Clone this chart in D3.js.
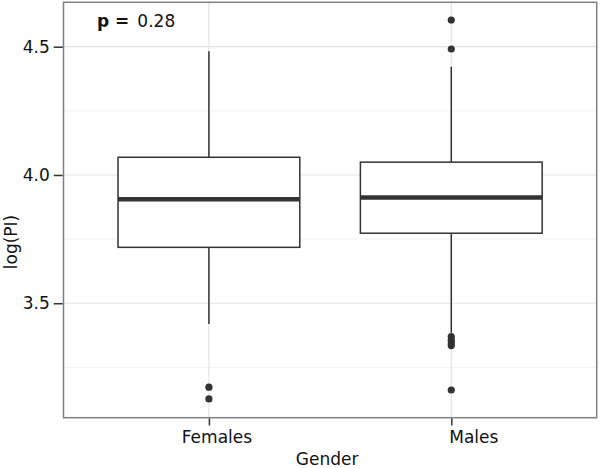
<!DOCTYPE html>
<html>
<head>
<meta charset="utf-8">
<script src="https://cdn.jsdelivr.net/npm/d3@7"></script>
<style>
body { margin: 0; background: #fff; }
svg { display: block; font-family: "DejaVu Sans", sans-serif; }
</style>
</head>
<body>
<svg id="chart" width="600" height="468"></svg>
<script>
const categories = ["Females", "Males"];
const q1 = [3.718, 3.773];
const medians = [3.905, 3.912];
const q3 = [4.069, 4.050];
const whiskerLow = [3.419, 3.385];
const whiskerHigh = [4.482, 4.422];
const outliersFemales = [3.173, 3.127];
const outliersMales = [4.604, 4.491, 3.370, 3.356, 3.345, 3.335, 3.162];
const yTicks = [3.5, 4.0, 4.5];
const yMinor = [3.25, 3.75, 4.25];
const pText = "0.28";

(function () {
const svg = d3.select("#chart");
const pL = 63.5, pR = 596.7, pT = 2.3, pB = 417.7;
const fs = "17px";
const labelShift = {"Females": 7.5, "Males": 22};

const x = d3.scalePoint().domain(categories).range([pL, pR]).padding(0.6);
const bandUnit = (pR - pL) / 2.2;
const y = d3.scaleLinear().domain([3.054, 4.673]).range([pB, pT]);

svg.append("rect").attr("x", pL).attr("y", pT).attr("width", pR - pL).attr("height", pB - pT).attr("fill", "#fff");

svg.append("g").selectAll("line").data(yMinor).join("line")
  .attr("x1", pL).attr("x2", pR).attr("y1", d => y(d)).attr("y2", d => y(d))
  .attr("stroke", "#f2f2f2").attr("stroke-width", 1);
svg.append("g").selectAll("line").data(yTicks).join("line")
  .attr("x1", pL).attr("x2", pR).attr("y1", d => y(d)).attr("y2", d => y(d))
  .attr("stroke", "#e3e3e3").attr("stroke-width", 1.2);
svg.append("g").selectAll("line").data(categories).join("line")
  .attr("x1", d => x(d)).attr("x2", d => x(d)).attr("y1", pT).attr("y2", pB)
  .attr("stroke", "#e3e3e3").attr("stroke-width", 1.2);

const data = categories.map((c, i) => ({
  c, q1: q1[i], med: medians[i], q3: q3[i], lo: whiskerLow[i], hi: whiskerHigh[i],
  out: i === 0 ? outliersFemales : outliersMales
}));
const bw = bandUnit * 0.75;
const g = svg.append("g");
const stroke = "#333";

data.forEach(d => {
  const cx = x(d.c);
  g.append("line").attr("x1", cx).attr("x2", cx).attr("y1", y(d.q3)).attr("y2", y(d.hi))
    .attr("stroke", stroke).attr("stroke-width", 1.5);
  g.append("line").attr("x1", cx).attr("x2", cx).attr("y1", y(d.q1)).attr("y2", y(d.lo))
    .attr("stroke", stroke).attr("stroke-width", 1.5);
  g.append("rect").attr("x", cx - bw / 2).attr("y", y(d.q3)).attr("width", bw).attr("height", y(d.q1) - y(d.q3))
    .attr("fill", "#fff").attr("stroke", stroke).attr("stroke-width", 1.5);
  g.append("line").attr("x1", cx - bw / 2).attr("x2", cx + bw / 2).attr("y1", y(d.med)).attr("y2", y(d.med))
    .attr("stroke", stroke).attr("stroke-width", 4.5);
  g.selectAll(null).data(d.out).join("circle")
    .attr("cx", cx).attr("cy", v => y(v)).attr("r", 3.6).attr("fill", "#333");
});

svg.append("rect").attr("x", pL).attr("y", pT).attr("width", pR - pL).attr("height", pB - pT)
  .attr("fill", "none").attr("stroke", "#7f7f7f").attr("stroke-width", 1.5);

const yAxis = svg.append("g").attr("transform", `translate(${pL - 0.75},0)`)
  .call(d3.axisLeft(y).tickValues(yTicks).tickFormat(d3.format(".1f")).tickSize(9).tickPadding(4));
yAxis.select(".domain").remove();
yAxis.selectAll(".tick line").attr("stroke", "#333").attr("stroke-width", 1.5);
yAxis.selectAll(".tick text").attr("fill", "#111").style("font-size", fs).style("font-family", "DejaVu Sans");

const xAxis = svg.append("g").attr("transform", `translate(0,${pB + 0.75})`)
  .call(d3.axisBottom(x).tickSize(7).tickPadding(5));
xAxis.select(".domain").remove();
xAxis.selectAll(".tick line").attr("stroke", "#333").attr("stroke-width", 1.5);
xAxis.selectAll(".tick text").attr("fill", "#111").style("font-size", fs).style("font-family", "DejaVu Sans")
  .attr("x", d => labelShift[d] || 0);

svg.append("text").attr("x", (pL + pR) / 2 - 3).attr("y", 465).attr("text-anchor", "middle")
  .style("font-size", fs).attr("fill", "#111").text("Gender");
svg.append("text").attr("transform", "translate(17,242) rotate(-90)").attr("text-anchor", "middle")
  .style("font-size", fs).attr("fill", "#111").text("log(PI)");

const pt = svg.append("text").attr("x", 97).attr("y", 27).style("font-size", fs).attr("fill", "#111");
pt.append("tspan").attr("font-weight", "bold").text("p =");
pt.append("tspan").attr("dx", 8).text(pText);
})();
</script>
</body>
</html>
